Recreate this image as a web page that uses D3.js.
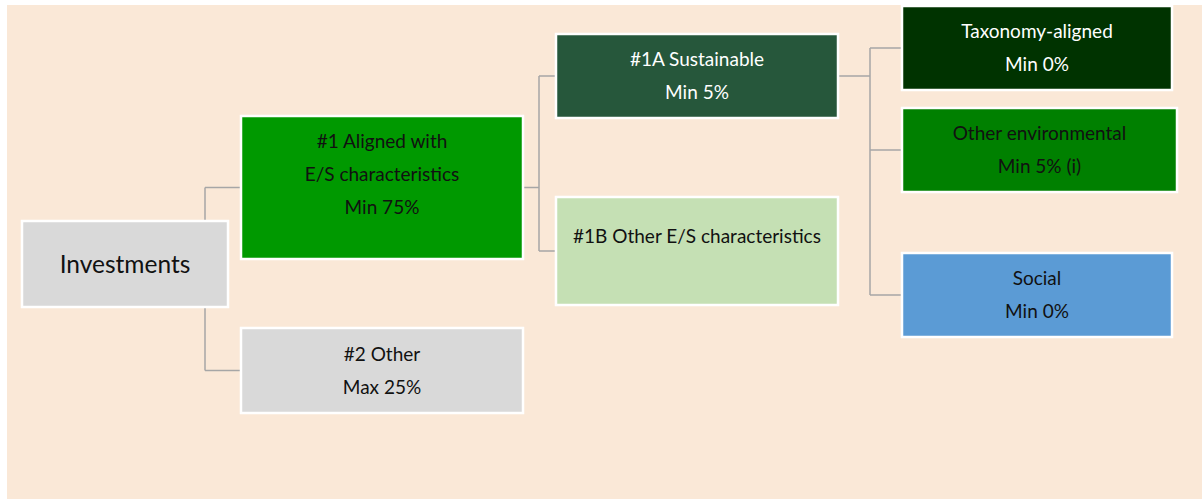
<!DOCTYPE html>
<html>
<head>
<meta charset="utf-8">
<script src="https://cdn.jsdelivr.net/npm/d3@7"></script>
<style>
  body { margin: 0; background: #ffffff; }
  svg text { font-family: Lato, "Open Sans", sans-serif; }
</style>
</head>
<body>
<div id="chart"></div>
<script>
// tree content: one entry per box
const labels = [
  ["Investments"],
  ["#1 Aligned with", "E/S characteristics", "Min 75%"],
  ["#2 Other", "Max 25%"],
  ["#1A Sustainable", "Min 5%"],
  ["#1B Other E/S characteristics"],
  ["Taxonomy-aligned", "Min 0%"],
  ["Other environmental", "Min 5% (i)"],
  ["Social", "Min 0%"]
];
const parents = [null, 0, 0, 1, 1, 3, 3, 3];
const levels = [0, 1, 1, 2, 2, 3, 3, 3];
const fills = ["#d9d9d9", "#009900", "#d9d9d9", "#26573b", "#c5e0b4", "#003300", "#008000", "#5b9bd5"];
const textColors = ["#111", "#111", "#111", "#fff", "#111", "#fff", "#111", "#111"];

// layout of the boxes (top, height, width) and the text offset inside them
const boxTop = [221, 116, 328, 34, 197, 6, 108, 253];
const boxHeight = [86, 143, 85, 84, 108, 84, 84, 84];
const boxWidth = [206, 282, 282, 282, 282, 270, 275, 270];
const textShift = [0, -13, 0, 0, -15, 0, 0, 0];
const fontSizes = [24.5, 19, 19, 19, 19, 19, 19, 19];

const config = {
    width: 1202,
    height: 500,
    lineHeight: 33,
    busX: [205, 539, 870]
};

const xScale = d3.scaleOrdinal()
    .domain([0, 1, 2, 3])
    .range([22, 241, 556, 902]);

const nodes = labels.map((lines, i) => ({
    id: i,
    lines: lines,
    parent: parents[i],
    level: levels[i],
    x: xScale(levels[i]),
    y: boxTop[i],
    w: boxWidth[i],
    h: boxHeight[i]
}));
nodes.forEach(n => { n.mid = n.y + n.h / 2; });

const svg = d3.select("#chart")
    .append("svg")
    .attr("width", config.width)
    .attr("height", config.height);

// panel background
svg.append("rect")
    .attr("x", 7)
    .attr("y", 5)
    .attr("width", config.width - 7)
    .attr("height", config.height - 6)
    .attr("fill", "#fae8d7");

// connectors, drawn first so boxes sit on top
const links = svg.append("g")
    .attr("fill", "none")
    .attr("stroke", "#a6a6a6")
    .attr("stroke-width", 1.5);

nodes.forEach(p => {
    const kids = nodes.filter(n => n.parent === p.id);
    if (!kids.length) return;
    const bx = config.busX[p.level];
    const ys = kids.map(k => k.mid).concat([p.mid]);
    links.append("line")
        .attr("x1", bx).attr("x2", bx)
        .attr("y1", d3.min(ys)).attr("y2", d3.max(ys));
    if (p.x + p.w < bx) {
        links.append("line")
            .attr("x1", p.x + p.w).attr("x2", bx)
            .attr("y1", p.mid).attr("y2", p.mid);
    }
    kids.forEach(k => {
        links.append("line")
            .attr("x1", bx).attr("x2", k.x)
            .attr("y1", k.mid).attr("y2", k.mid);
    });
});

const box = svg.selectAll("g.box")
    .data(nodes)
    .join("g")
    .attr("class", "box");

box.append("rect")
    .attr("x", d => d.x)
    .attr("y", d => d.y)
    .attr("width", d => d.w)
    .attr("height", d => d.h)
    .attr("fill", d => fills[d.id])
    .attr("stroke", "#ffffff")
    .attr("stroke-width", 2.5);

box.each(function(d) {
    const g = d3.select(this);
    const n = d.lines.length;
    const cy = d.mid + textShift[d.id];
    d.lines.forEach((t, i) => {
        g.append("text")
            .attr("x", d.x + d.w / 2)
            .attr("y", cy + (i - (n - 1) / 2) * config.lineHeight)
            .attr("dy", "0.35em")
            .attr("text-anchor", "middle")
            .style("font-size", fontSizes[d.id] + "px")
            .style("fill", textColors[d.id])
            .text(t);
    });
});
</script>
</body>
</html>
